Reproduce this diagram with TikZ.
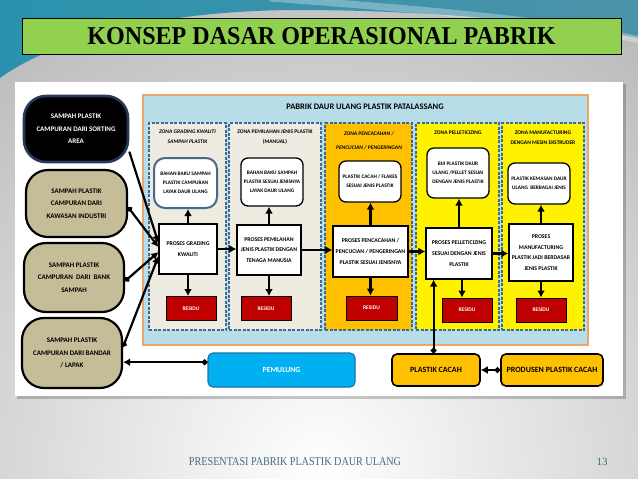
\documentclass[tikz,border=0pt]{standalone}
\usepackage{fontspec}
\usepackage{graphicx}
\setmainfont{Carlito}
\newfontfamily\serifttl{Liberation Serif}
\usetikzlibrary{arrows.meta}
\definecolor{titlegreen}{HTML}{92D050}
\definecolor{tanc}{HTML}{C4BD97}
\definecolor{zonebeige}{HTML}{EEECE1}
\definecolor{lightblue}{HTML}{B7DEE8}
\definecolor{orangeborder}{HTML}{EFA468}
\definecolor{zoneblue}{HTML}{3E6A94}
\definecolor{resred}{HTML}{C00000}
\definecolor{pemblue}{HTML}{00B0F0}
\definecolor{pemborder}{HTML}{1F6FA8}
\definecolor{amber}{HTML}{FFC000}
\definecolor{navyb}{HTML}{26395A}
\definecolor{footcol}{HTML}{3F6F80}
\definecolor{bggray}{HTML}{8C8C8C}
\definecolor{tealA}{HTML}{2A92AE}
\definecolor{tealM}{HTML}{3C7F96}
\definecolor{tealB}{HTML}{4C93A8}
\definecolor{prodborder}{HTML}{46698C}
\begin{document}
\begin{tikzpicture}[x=1pt,y=-1pt,
  lnode/.style={draw=black, line width=2.2pt, fill=tanc, rounded corners=22pt, inner sep=0pt, align=center, font=\fontsize{7}{12.5}\selectfont\bfseries},
  zone/.style={draw=zoneblue, line width=1.8pt, dash pattern=on 3pt off 1.5pt, inner sep=0pt},
  ztitle/.style={align=center, font=\fontsize{5.5}{10}\selectfont\bfseries},
  prod/.style={draw=black, line width=1.3pt, fill=white, rounded corners=7pt, inner sep=0pt, align=center, font=\fontsize{5.3}{9}\selectfont\bfseries},
  proc/.style={draw=black, line width=1.3pt, fill=white, inner sep=0pt, align=center, font=\fontsize{5.8}{10.7}\selectfont\bfseries},
  residu/.style={draw=black, line width=1pt, fill=resred, text=white, inner sep=0pt, minimum width=50pt, minimum height=24pt, font=\fontsize{5.5}{6}\selectfont\bfseries},
  bottombox/.style={rounded corners=5pt, inner sep=0pt, minimum height=32pt, font=\fontsize{8}{9}\selectfont\bfseries},
  arr/.style={line width=2.2pt, -{Latex[length=7pt,width=8pt]}},
  dotarr/.style={line width=2.2pt, {Circle[length=5.5pt]}-{Latex[length=7pt,width=8pt]}},
]
\useasboundingbox (0,0) rectangle (638,479);
% ---------- background ----------
\begin{scope}
\clip (0,0) rectangle (638,479);
\shade[inner color=white, outer color=bggray] (320,470) circle (900pt);
\shade[left color=tealA, middle color=tealM, right color=tealB]
  (0,0) -- (638,0) -- (638,38) .. controls (560,22) and (420,10) .. (300,10)
  .. controls (170,10) and (60,35) .. (0,78) -- cycle;
\draw[white, opacity=0.3, line width=7pt] (270,-2) .. controls (400,8) and (540,18) .. (640,40);
\end{scope}
% ---------- title ----------
\node[draw=black, line width=1pt, fill=titlegreen, minimum width=599pt, minimum height=36pt, inner sep=0pt] (title) at (321.5,36)
  {\serifttl\bfseries\fontsize{25.7}{26}\selectfont\scalebox{0.936}[1]{KONSEP DASAR OPERASIONAL PABRIK}};
% ---------- white panel ----------
\fill[black, opacity=0.2] (17,84) rectangle (626,399);
\node[fill=white, minimum width=608pt, minimum height=314pt, inner sep=0pt] (panel) at (319,239) {};
% ---------- factory box ----------
\node[draw=orangeborder, line width=2pt, fill=lightblue, minimum width=445pt, minimum height=250pt, inner sep=0pt] (pabrik) at (365.5,220) {};
\node[font=\fontsize{8.5}{9}\selectfont\bfseries] (pabriktitle) at (365,107) {PABRIK DAUR ULANG PLASTIK PATALASSANG};
% zones
\node[zone, fill=zonebeige, minimum width=77pt, minimum height=207pt] (z1) at (187.5,226.5) {};
\node[zone, fill=zonebeige, minimum width=92pt, minimum height=207pt] (z2) at (275,226.5) {};
\node[zone, fill=amber, minimum width=87pt, minimum height=207pt] (z3) at (368.5,226.5) {};
\node[zone, fill=yellow, minimum width=83pt, minimum height=207pt] (z4) at (457.5,226.5) {};
\node[zone, fill=yellow, minimum width=82pt, minimum height=207pt] (z5) at (543,226.5) {};
% zone titles
\node[ztitle, font=\fontsize{5.5}{10}\selectfont\bfseries\itshape] (t1) at (187.5,137) {ZONA GRADING KWALITI\\SAMPAH PLASTIK};
\node[ztitle] (t2) at (275,137) {ZONA PEMILAHAN JENIS PLASTIK\\(MANUAL)};
\node[ztitle, font=\fontsize{5.5}{14.5}\selectfont\bfseries\itshape] (t3) at (369,140.5) {ZONA PENCACAHAN /\\PENCUCIAN / PENGERINGAN};
\node[ztitle] (t4) at (458,133) {ZONA PELLETICIZING};
\node[ztitle] (t5) at (543,138) {ZONA MANUFACTURING\\DENGAN MESIN EKSTRUDER};
% products
\node[prod, draw=prodborder, line width=2pt, rounded corners=11pt, minimum width=63pt, minimum height=50pt] (p1) at (185.5,183) {BAHAN BAKU SAMPAH\\PLASTIK CAMPURAN\\LAYAK DAUR ULANG};
\node[prod, minimum width=62pt, minimum height=48pt] (p2) at (272,182) {BAHAN BAKU SAMPAH\\PLASTIK SESUAI JENISNYA\\LAYAK DAUR ULANG};
\node[prod, minimum width=62pt, minimum height=41pt] (p3) at (370,181.5) {PLASTIK CACAH / FLAKES\\SESUAI JENIS PLASTIK};
\node[prod, minimum width=62pt, minimum height=50pt] (p4) at (458,173) {BIJI PLASTIK DAUR\\ULANG /PELLET SESUAI\\DENGAN JENIS PLASTIK};
\node[prod, minimum width=62pt, minimum height=41pt] (p5) at (539,183.5) {PLASTIK KEMASAN DAUR\\ULANG \ BERBAGAI JENIS};
% processes
\node[proc, minimum width=58pt, minimum height=50pt] (g1) at (188,249) {PROSES GRADING\\KWALITI};
\node[proc, minimum width=64pt, minimum height=50pt] (g2) at (269,250) {PROSES PEMILAHAN\\JENIS PLASTIK DENGAN\\TENAGA MANUSIA};
\node[proc, minimum width=75pt, minimum height=51pt] (g3) at (370.5,251.5) {PROSES PENCACAHAN /\\PENCUCIAN / PENGERINGAN\\PLASTIK SESUAI JENISNYA};
\node[proc, minimum width=66pt, minimum height=51pt] (g4) at (459,253.5) {PROSES PELLETICIZING\\SESUAI DENGAN JENIS\\PLASTIK};
\node[proc, minimum width=64pt, minimum height=57pt] (g5) at (541,252.5) {PROSES\\MANUFACTURING\\PLASTIK JADI BERDASAR\\JENIS PLASTIK};
% residu
\node[residu] (r1) at (191,308.5) {RESIDU};
\node[residu] (r2) at (266,308.5) {RESIDU};
\node[residu, minimum width=51pt] (r3) at (371.5,308) {RESIDU};
\node[residu] (r4) at (467,310) {RESIDU};
\node[residu] (r5) at (541,310) {RESIDU};
% ---------- left sources ----------
\node[lnode, fill=black, draw=navyb, line width=2.6pt, text=white, minimum width=104pt, minimum height=66pt] (A) at (76,129) {SAMPAH PLASTIK\\CAMPURAN DARI SORTING\\AREA};
\node[lnode, minimum width=101pt, minimum height=67pt] (B) at (76.5,203.5) {SAMPAH PLASTIK\\CAMPURAN DARI\\KAWASAN INDUSTRI};
\node[lnode, minimum width=100pt, minimum height=69pt] (C) at (74,277.5) {SAMPAH PLASTIK\\CAMPURAN \ DARI \ BANK\\SAMPAH};
\node[lnode, minimum width=100pt, minimum height=70pt] (D) at (72,353) {SAMPAH PLASTIK\\CAMPURAN DARI BANDAR\\/ LAPAK};
% ---------- bottom boxes ----------
\node[bottombox, fill=pemblue, draw=pemborder, line width=1.2pt, text=white, minimum width=147pt, minimum height=34pt, font=\fontsize{7.7}{9}\selectfont\bfseries] (pem) at (281.5,370) {PEMULUNG};
\node[bottombox, fill=amber, draw=black, line width=1.6pt, minimum width=88pt] (pc) at (436,370) {PLASTIK CACAH};
\node[bottombox, fill=amber, draw=black, line width=1.6pt, minimum width=102pt] (pro) at (552,370) {PRODUSEN PLASTIK CACAH};
% ---------- connectors ----------
\draw[arr] (A.-23) -- (g1.168);
\draw[dotarr] (B.-4) -- (g1.176);
\draw[dotarr] (C.-4) -- (g1.186);
\draw[dotarr] (D.7) -- (g1.194);
\draw[dotarr] (pem.174) -- (pem.174 -| D.east);
\draw[dotarr] (pro.west) -- (pc.east);
\draw[dotarr] (pc.98) -- (pc.98 |- g4.south);
% horizontal flow
\draw[arr] (g1.east) -- (g1.east -| g2.west);
\draw[arr] (g2.east) -- (g2.east -| g3.west);
\draw[arr] (g3.east) -- (g3.east -| g4.west);
\draw[arr] (g4.east) -- (g4.east -| g5.west);
% up to products
\draw[arr] (g1.north) -- (g1.north |- p1.south);
\draw[arr] (g2.north) -- (g2.north |- p2.south);
\draw[arr] (g3.north) -- (g3.north |- p3.south);
\draw[arr] (g4.north) -- (g4.north |- p4.south);
\draw[arr] (g5.north) -- (g5.north |- p5.south);
% down to residu
\draw[arr] (g1.south) -- (g1.south |- r1.north);
\draw[arr] (g2.south) -- (g2.south |- r2.north);
\draw[arr] (g3.south) -- (g3.south |- r3.north);
\draw[arr] ([xshift=3pt]g4.south) -- ([xshift=3pt]g4.south |- r4.north);
\draw[arr] (g5.south) -- (g5.south |- r5.north);
% ---------- footer ----------
\node[text=footcol, font=\serifttl\fontsize{12}{13}\selectfont] (footer) at (295,462) {\scalebox{0.846}[1]{PRESENTASI PABRIK PLASTIK DAUR ULANG}};
\node[text=footcol, font=\serifttl\fontsize{11}{12}\selectfont] (pagenum) at (602,462) {13};
\end{tikzpicture}
\end{document}
